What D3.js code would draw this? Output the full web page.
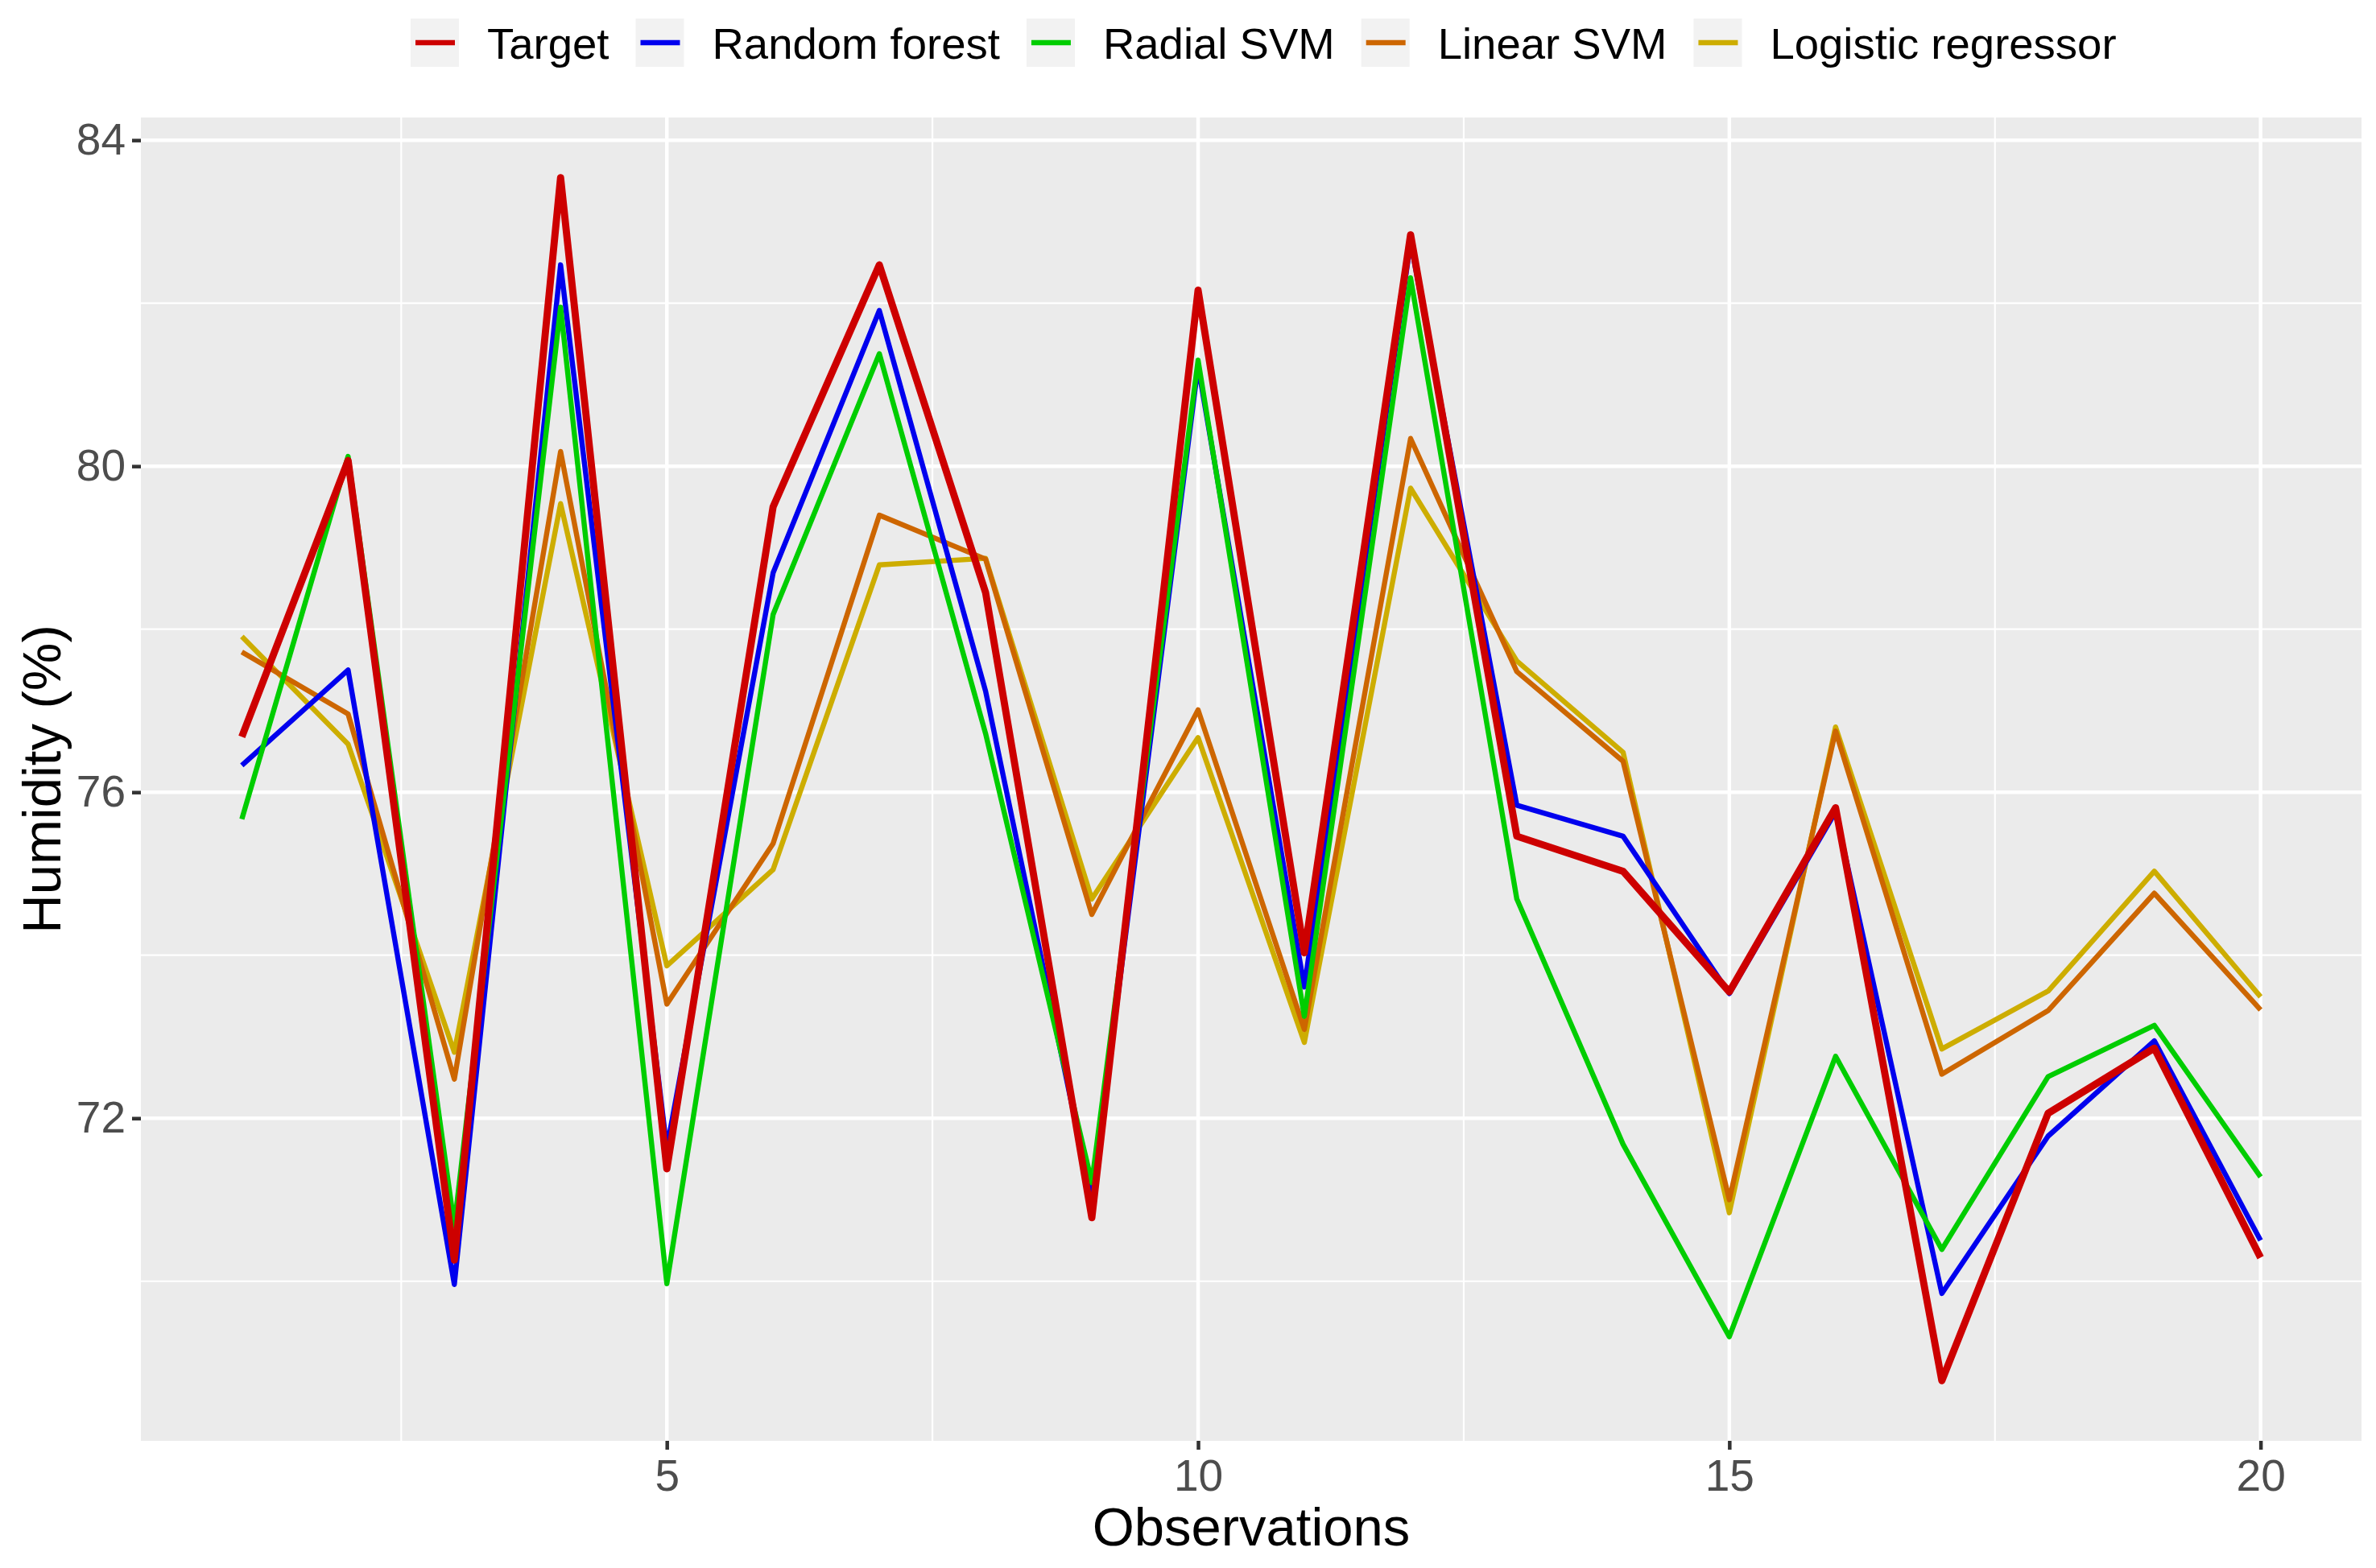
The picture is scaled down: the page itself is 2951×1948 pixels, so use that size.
<!DOCTYPE html>
<meta charset="utf-8">
<style>
body { margin: 0; background: #fff; }
svg { display: block; font-family: "Liberation Sans", Arial, sans-serif; }
.grid-major { stroke: #fff; stroke-width: 4.5px; }
.grid-minor { stroke: #fff; stroke-width: 2.2px; }
.tick-label { fill: #4D4D4D; font-size: 55px; }
.axis-title { fill: #000; font-size: 67px; }
.legend-text { fill: #000; font-size: 54.5px; }
.series { fill: none; stroke-linejoin: round; stroke-linecap: butt; }
</style>
<svg width="2951" height="1948"></svg>
<script src="https://cdn.jsdelivr.net/npm/d3@7/dist/d3.min.js"></script>
<script>
// observations 1..20
var obs = [1, 2, 3, 4, 5, 6, 7, 8, 9, 10, 11, 12, 13, 14, 15, 16, 17, 18, 19, 20];

var target   = [76.68, 80.07, 70.26, 83.54, 71.38, 79.50, 82.47, 78.45, 70.78, 82.16,
                74.03, 82.84, 75.46, 75.03, 73.55, 75.81, 68.78, 72.06, 72.86, 70.29];
var rforest  = [76.33, 77.50, 69.96, 82.47, 71.63, 78.69, 81.91, 77.24, 70.99, 81.23,
                73.61, 82.75, 75.84, 75.46, 73.53, 75.76, 69.85, 71.78, 72.95, 70.50];
var radial   = [75.67, 80.12, 70.68, 81.95, 69.97, 78.18, 81.38, 76.72, 71.21, 81.30,
                73.25, 82.31, 74.69, 71.68, 69.32, 72.76, 70.39, 72.51, 73.14, 71.28];
var linear   = [77.72, 76.96, 72.48, 80.18, 73.40, 75.37, 79.40, 78.86, 74.50, 77.01,
                73.09, 80.34, 77.48, 76.38, 71.00, 76.75, 72.54, 73.32, 74.76, 73.33];
var logistic = [77.91, 76.59, 72.81, 79.54, 73.87, 75.05, 78.79, 78.87, 74.69, 76.67,
                72.93, 79.73, 77.61, 76.49, 70.84, 76.80, 72.85, 73.56, 75.03, 73.49];

var seriesNames  = ["Target", "Random forest", "Radial SVM", "Linear SVM", "Logistic regressor"];
var seriesValues = [target, rforest, radial, linear, logistic];
var seriesColors = ["#CD0000", "#0000EE", "#00CD00", "#CD6600", "#CDAD00"];
var seriesWidths = [8.9, 6.4, 6.4, 6.4, 6.4];
var drawOrder    = [4, 3, 1, 2, 0];   // target on top

var xMajor = [5, 10, 15, 20],
    xMinor = [2.5, 7.5, 12.5, 17.5],
    yMajor = [72, 76, 80, 84],
    yMinor = [70, 74, 78, 82];

var svg = d3.select("svg"),
    panel = {left: 175, right: 2933, top: 146, bottom: 1790};

// ggplot-style 5% expansion
var xr = d3.extent(obs), xpad = (xr[1] - xr[0]) * 0.05;
var allY = d3.merge(seriesValues), yr = d3.extent(allY), ypad = (yr[1] - yr[0]) * 0.05;

var x = d3.scaleLinear().domain([xr[0] - xpad, xr[1] + xpad]).range([panel.left, panel.right]);
var y = d3.scaleLinear().domain([yr[0] - ypad, yr[1] + ypad]).range([panel.bottom, panel.top]);

// panel
svg.append("rect")
    .attr("x", panel.left).attr("y", panel.top)
    .attr("width", panel.right - panel.left)
    .attr("height", panel.bottom - panel.top)
    .attr("fill", "#EBEBEB");

var grid = svg.append("g");
grid.selectAll(".gy-min").data(yMinor).enter().append("line")
    .attr("class", "grid-minor")
    .attr("x1", panel.left).attr("x2", panel.right)
    .attr("y1", function(d) { return y(d); }).attr("y2", function(d) { return y(d); });
grid.selectAll(".gx-min").data(xMinor).enter().append("line")
    .attr("class", "grid-minor")
    .attr("y1", panel.top).attr("y2", panel.bottom)
    .attr("x1", function(d) { return x(d); }).attr("x2", function(d) { return x(d); });
grid.selectAll(".gy-maj").data(yMajor).enter().append("line")
    .attr("class", "grid-major")
    .attr("x1", panel.left).attr("x2", panel.right)
    .attr("y1", function(d) { return y(d); }).attr("y2", function(d) { return y(d); });
grid.selectAll(".gx-maj").data(xMajor).enter().append("line")
    .attr("class", "grid-major")
    .attr("y1", panel.top).attr("y2", panel.bottom)
    .attr("x1", function(d) { return x(d); }).attr("x2", function(d) { return x(d); });

// axes
var xAxis = d3.axisBottom(x).tickValues(xMajor).tickSize(11).tickPadding(12);
var yAxis = d3.axisLeft(y).tickValues(yMajor).tickSize(11).tickPadding(8);

var gx = svg.append("g")
    .attr("transform", "translate(0," + panel.bottom + ")")
    .call(xAxis);
var gy = svg.append("g")
    .attr("transform", "translate(" + panel.left + ",0)")
    .call(yAxis);

[gx, gy].forEach(function(g) {
  g.select(".domain").remove();
  g.selectAll(".tick line").attr("stroke", "#333333").attr("stroke-width", 4.5);
  g.selectAll(".tick text").attr("class", "tick-label").attr("font-family", null).attr("font-size", null);
});
gx.selectAll(".tick text").attr("dy", "0.71em");

// lines
var line = d3.line()
    .x(function(d, i) { return x(obs[i]); })
    .y(function(d) { return y(d); });

svg.append("g").selectAll("path")
  .data(drawOrder)
  .enter().append("path")
    .attr("class", "series")
    .attr("d", function(k) { return line(seriesValues[k]); })
    .attr("stroke", function(k) { return seriesColors[k]; })
    .attr("stroke-width", function(k) { return seriesWidths[k]; });

// axis titles
svg.append("text")
    .attr("class", "axis-title")
    .attr("x", (panel.left + panel.right) / 2)
    .attr("y", 1920)
    .attr("text-anchor", "middle")
    .text("Observations");

svg.append("text")
    .attr("class", "axis-title")
    .attr("transform", "translate(75," + ((panel.top + panel.bottom) / 2) + ") rotate(-90)")
    .attr("text-anchor", "middle")
    .text("Humidity (%)");

// legend across the top
var legend = svg.append("g");
var keySize = 60, keyTop = 23, textGap = 35, itemGap = 33;
var cursor = 510;
seriesNames.forEach(function(name, i) {
  legend.append("rect")
      .attr("x", cursor).attr("y", keyTop)
      .attr("width", keySize).attr("height", keySize)
      .attr("fill", "#F2F2F2");
  legend.append("line")
      .attr("x1", cursor + 6).attr("x2", cursor + keySize - 5)
      .attr("y1", keyTop + keySize / 2).attr("y2", keyTop + keySize / 2)
      .attr("stroke", seriesColors[i])
      .attr("stroke-width", 6.7);
  var t = legend.append("text")
      .attr("class", "legend-text")
      .attr("x", cursor + keySize + textGap)
      .attr("y", 73)
      .text(name);
  cursor += keySize + textGap + t.node().getComputedTextLength() + itemGap;
});
</script>
